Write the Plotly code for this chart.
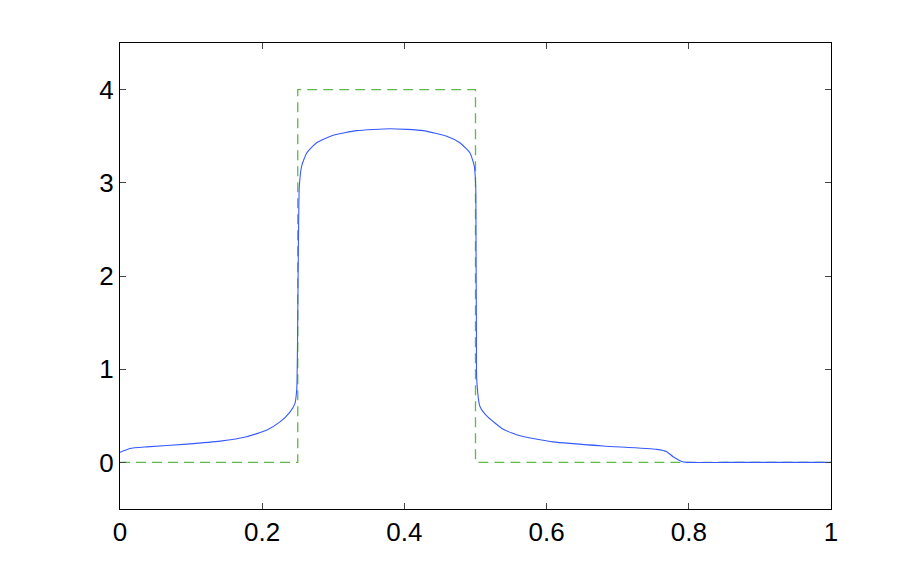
import plotly.graph_objects as go

# exact solution (square pulse)
x_exact = [0.0, 0.25, 0.25, 0.5, 0.5, 1.0]
u_exact = [0.0, 0.0, 4.0, 4.0, 0.0, 0.0]

# numerical solution
x_num = [0.0, 0.0023, 0.014, 0.0375, 0.094, 0.141, 0.178, 0.206, 0.225, 0.239,
         0.246, 0.2485, 0.249, 0.2497, 0.2505, 0.2513, 0.2522, 0.2555, 0.2626,
         0.2766, 0.30, 0.333, 0.38, 0.4266, 0.4595, 0.478, 0.4923, 0.4983, 0.5003,
         0.5008, 0.5013, 0.5017, 0.5063, 0.5157, 0.539, 0.5626, 0.609, 0.68,
         0.755, 0.769, 0.778, 0.79, 0.797, 0.85, 0.9, 1.0]
u_num = [0.11, 0.115, 0.15, 0.167, 0.196, 0.228, 0.275, 0.346, 0.435, 0.54,
         0.63, 0.775, 0.88, 1.3, 2.0, 2.6, 2.96, 3.18, 3.32,
         3.43, 3.51, 3.56, 3.58, 3.56, 3.50, 3.43, 3.32, 3.18, 2.96,
         2.2, 1.4, 0.89, 0.60, 0.50, 0.355, 0.285, 0.22, 0.176,
         0.14, 0.115, 0.06, 0.01, 0.0, 0.0, 0.0, 0.0]

x_ticks = [0, 0.2, 0.4, 0.6, 0.8, 1]
x_tick_text = ["0", "0.2", "0.4", "0.6", "0.8", "1"]
y_ticks = [0, 1, 2, 3, 4]

fig = go.Figure()

fig.add_trace(go.Scatter(
    x=x_exact, y=u_exact,
    mode='lines',
    line=dict(color='rgb(95,185,75)', width=1.3, dash='10px,6px'),
    showlegend=False
))

fig.add_trace(go.Scatter(
    x=x_num, y=u_num,
    mode='lines',
    line=dict(color='rgb(55,90,255)', width=1.1, shape='spline', smoothing=0.5),
    showlegend=False
))

axis_style = dict(
    showgrid=False, zeroline=False,
    showline=True, linecolor='black', linewidth=1, mirror='ticks',
    ticks='inside', ticklen=6, tickcolor='#444', tickwidth=1,
    tickfont=dict(family='Liberation Sans, Arial, sans-serif', size=26, color='black'),
)

# page body adds ~8px offset, so margins are shifted accordingly
fig.update_layout(
    width=918, height=574,
    paper_bgcolor='white', plot_bgcolor='white',
    margin=dict(l=112, r=95, t=35, b=73),
    xaxis=dict(range=[0, 1], tickvals=x_ticks, ticktext=x_tick_text, **axis_style),
    yaxis=dict(range=[-0.5, 4.5], tickvals=y_ticks, **axis_style),
)

fig.write_html("out.html")
